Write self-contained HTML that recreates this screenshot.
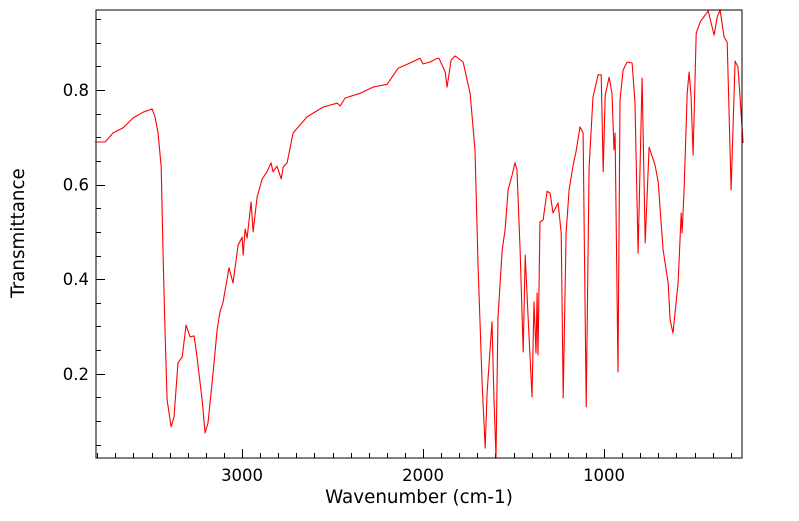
<!DOCTYPE html>
<html><head><meta charset="utf-8"><style>
body{margin:0;background:#fff;}
svg text{font-family:"DejaVu Sans","Liberation Sans",sans-serif;fill:#000;}
</style></head><body>
<svg id="chart" width="799" height="516" xmlns="http://www.w3.org/2000/svg">
<rect x="0" y="0" width="799" height="516" fill="#fff"/>
<g id="ticks"></g>
<path id="line" fill="none" stroke="#ff0000" stroke-width="1.1" stroke-linejoin="round"/>
<rect x="96" y="10" width="646" height="448" fill="none" stroke="#000" stroke-width="1"/>
<text x="419" y="503" font-size="18.3" text-anchor="middle">Wavenumber (cm-1)</text>
<text transform="translate(24,233) rotate(-90)" font-size="18.3" text-anchor="middle">Transmittance</text>
</svg>
<script>
const wavenumbers=[3812,3757,3713,3657,3602,3547,3497,3481,3464,3447,3436,3425,3414,3392,3376,3354,3331,3309,3287,3265,3249,3221,3204,3188,3160,3138,3122,3105,3072,3050,3022,3000,2994,2983,2972,2950,2939,2917,2889,2862,2840,2829,2807,2784,2773,2751,2718,2641,2552,2475,2458,2431,2348,2276,2199,2138,2072,2017,2000,1961,1923,1912,1878,1867,1845,1823,1779,1740,1713,1696,1674,1657,1646,1630,1619,1608,1597,1586,1563,1547,1530,1508,1492,1481,1464,1447,1436,1420,1398,1387,1376,1370,1365,1354,1337,1315,1298,1282,1254,1237,1226,1210,1193,1171,1155,1133,1116,1099,1083,1061,1033,1016,1005,994,972,956,945,939,923,912,895,873,845,829,812,790,773,751,718,701,674,646,635,619,591,574,569,558,541,530,519,508,491,469,425,392,375,359,337,320,298,276,260,232];
const transmittance=[0.690,0.690,0.709,0.720,0.741,0.753,0.760,0.743,0.709,0.637,0.441,0.286,0.145,0.088,0.109,0.223,0.236,0.303,0.278,0.280,0.236,0.145,0.075,0.096,0.202,0.293,0.331,0.352,0.424,0.392,0.472,0.489,0.451,0.506,0.487,0.563,0.500,0.574,0.612,0.627,0.646,0.627,0.639,0.612,0.637,0.646,0.709,0.743,0.764,0.772,0.766,0.783,0.793,0.806,0.812,0.846,0.857,0.867,0.855,0.859,0.867,0.867,0.838,0.806,0.863,0.872,0.859,0.793,0.673,0.426,0.181,0.043,0.160,0.250,0.310,0.145,0.024,0.320,0.462,0.504,0.589,0.620,0.646,0.631,0.462,0.246,0.451,0.320,0.151,0.352,0.244,0.371,0.240,0.521,0.525,0.586,0.582,0.540,0.561,0.498,0.149,0.498,0.589,0.641,0.669,0.722,0.709,0.130,0.637,0.785,0.832,0.832,0.627,0.789,0.827,0.793,0.673,0.709,0.204,0.779,0.842,0.859,0.857,0.772,0.455,0.825,0.477,0.679,0.641,0.605,0.462,0.392,0.314,0.286,0.392,0.540,0.498,0.589,0.793,0.838,0.785,0.662,0.920,0.944,0.967,0.916,0.954,0.969,0.912,0.901,0.589,0.861,0.848,0.688];
const xMajorTicks=[3000,2000,1000];
const yMajorTicks=[0.2,0.4,0.6,0.8];
const X0=96,X1=742,Y0=10,Y1=458,WMAX=3807,WMIN=238,TMAX=0.969,TMIN=0.022;
function xs(w){return X0+(WMAX-w)/(WMAX-WMIN)*(X1-X0);}
function ys(t){return Y0+(TMAX-t)/(TMAX-TMIN)*(Y1-Y0);}
let d='';
for(let i=0;i<wavenumbers.length;i++){d+=(i?'L':'M')+xs(wavenumbers[i]).toFixed(1)+','+ys(transmittance[i]).toFixed(1);}
document.getElementById('line').setAttribute('d',d);
const g=document.getElementById('ticks');
const NS='http://www.w3.org/2000/svg';
function ln(x1,y1,x2,y2,name){const l=document.createElementNS(NS,'line');
l.setAttribute('x1',x1);l.setAttribute('y1',y1);l.setAttribute('x2',x2);l.setAttribute('y2',y2);
l.setAttribute('stroke','#000');l.setAttribute('stroke-width','1');


g.appendChild(l);}
function tx(x,y,s,anchor,name){const t=document.createElementNS(NS,'text');
t.setAttribute('x',x);t.setAttribute('y',y);t.setAttribute('font-size','16.5');t.setAttribute('text-anchor',anchor);t.textContent=s;


g.appendChild(t);}
for(let w=300;w<=3800;w+=100){const x=Math.round(xs(w))+0.5;const major=xMajorTicks.indexOf(w)>=0;ln(x,Y1,x,Y1-(major?9:5),'x-tick');}
xMajorTicks.forEach(w=>tx(xs(w),481,String(w),'middle','x-tick-label'));
for(let k=1;k<=19;k++){const t=k*0.05;if(t>TMAX)break;const y=Math.round(ys(t))+0.5;const major=yMajorTicks.some(v=>Math.abs(v-t)<1e-6);ln(X0,y,X0+(major?9:5),y,'y-tick');}
yMajorTicks.forEach(t=>tx(89,ys(t)+6,t.toFixed(1),'end','y-tick-label'));
</script>
</body></html>
